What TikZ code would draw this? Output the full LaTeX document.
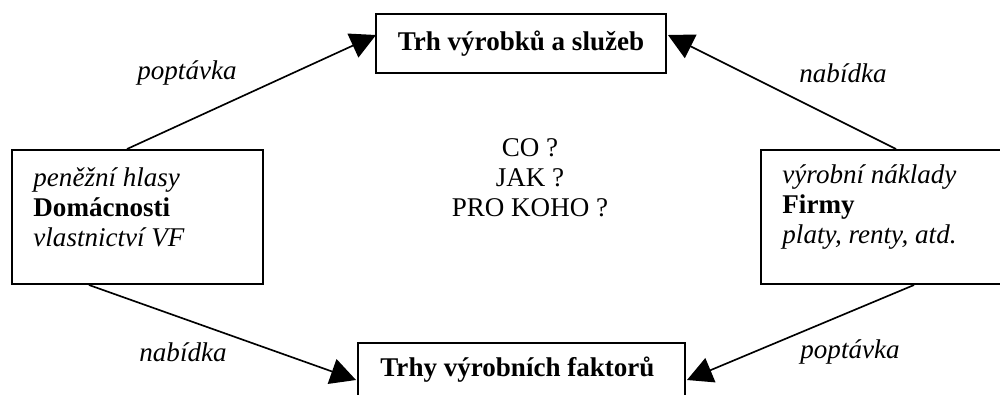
\documentclass[tikz,border=0pt]{standalone}
\usepackage{fontspec}
\setmainfont{Liberation Serif}
\usetikzlibrary{arrows.meta,calc}
\begin{document}
\begin{tikzpicture}[x=0.4528pt,y=-0.4528pt,
  box/.style={draw,line width=0.9pt,inner sep=0pt},
  flow/.style={line width=0.75pt,-{Triangle[length=11.5pt,width=11.8pt]}},
  txt/.style={inner sep=0pt,font=\fontsize{12.25}{13.5}\selectfont},
  lbl/.style={inner sep=0pt,font=\fontsize{12.25}{13.5}\selectfont\itshape}]
\useasboundingbox (0,0) rectangle (1000,394);
\clip (0,0) rectangle (1000,394);
% boxes
\node[box,minimum width=131.31pt,minimum height=26.72pt] (trh) at (521,43.5) {};
\node[box,minimum width=113.65pt,minimum height=60.68pt] (dom) at (137.5,217) {};
\node[box,minimum width=113.65pt,minimum height=60.68pt] (firmy) at (886.5,217) {};
\node[box,minimum width=148.07pt,minimum height=26.72pt] (fakt) at (521.5,372.5) {};
% box texts
\node[txt,font=\fontsize{12.25}{13.5}\selectfont\bfseries] (trhT) at (521,44) {Trh výrobků a služeb};
\node[txt,anchor=west,font=\fontsize{12.25}{13.5}\selectfont\bfseries] (faktT) at (380,370) {Trhy výrobních faktorů};
\node[txt,anchor=west,align=left] (domT) at (33,207) {\textit{peněžní hlasy}\\\textbf{Domácnosti}\\\textit{vlastnictví VF}};
\node[txt,anchor=west,align=left] (firmyT) at (782,207) {\textit{výrobní náklady}\\\textbf{Firmy}\\\textit{platy, renty, atd.}};
\node[txt,align=center] (q) at (530,178) {CO ?\\JAK ?\\PRO KOHO ?};
% connector end points
\coordinate (a1) at ($(dom.north west)+(116,0)$);
\coordinate (a1t) at ($(trh.west)+(1,-8.5)$);
\coordinate (a2) at ($(firmy.north west)+(136,0)$);
\coordinate (a2t) at ($(trh.east)+(1,-8.5)$);
\coordinate (a3) at ($(dom.south west)+(78,0)$);
\coordinate (a3t) at ($(fakt.west)+(-1,7.5)$);
\coordinate (a4) at ($(firmy.south west)+(154,0)$);
\coordinate (a4t) at ($(fakt.east)+(1,7.5)$);
\draw[flow] (a1) -- (a1t);
\draw[flow] (a2) -- (a2t);
\draw[flow] (a3) -- (a3t);
\draw[flow] (a4) -- (a4t);
% labels
\node[lbl] (l1) at (187,73) {poptávka};
\node[lbl] (l2) at (843,73) {nabídka};
\node[lbl] (l3) at (183,352) {nabídka};
\node[lbl] (l4) at (850,352) {poptávka};
\end{tikzpicture}
\end{document}
